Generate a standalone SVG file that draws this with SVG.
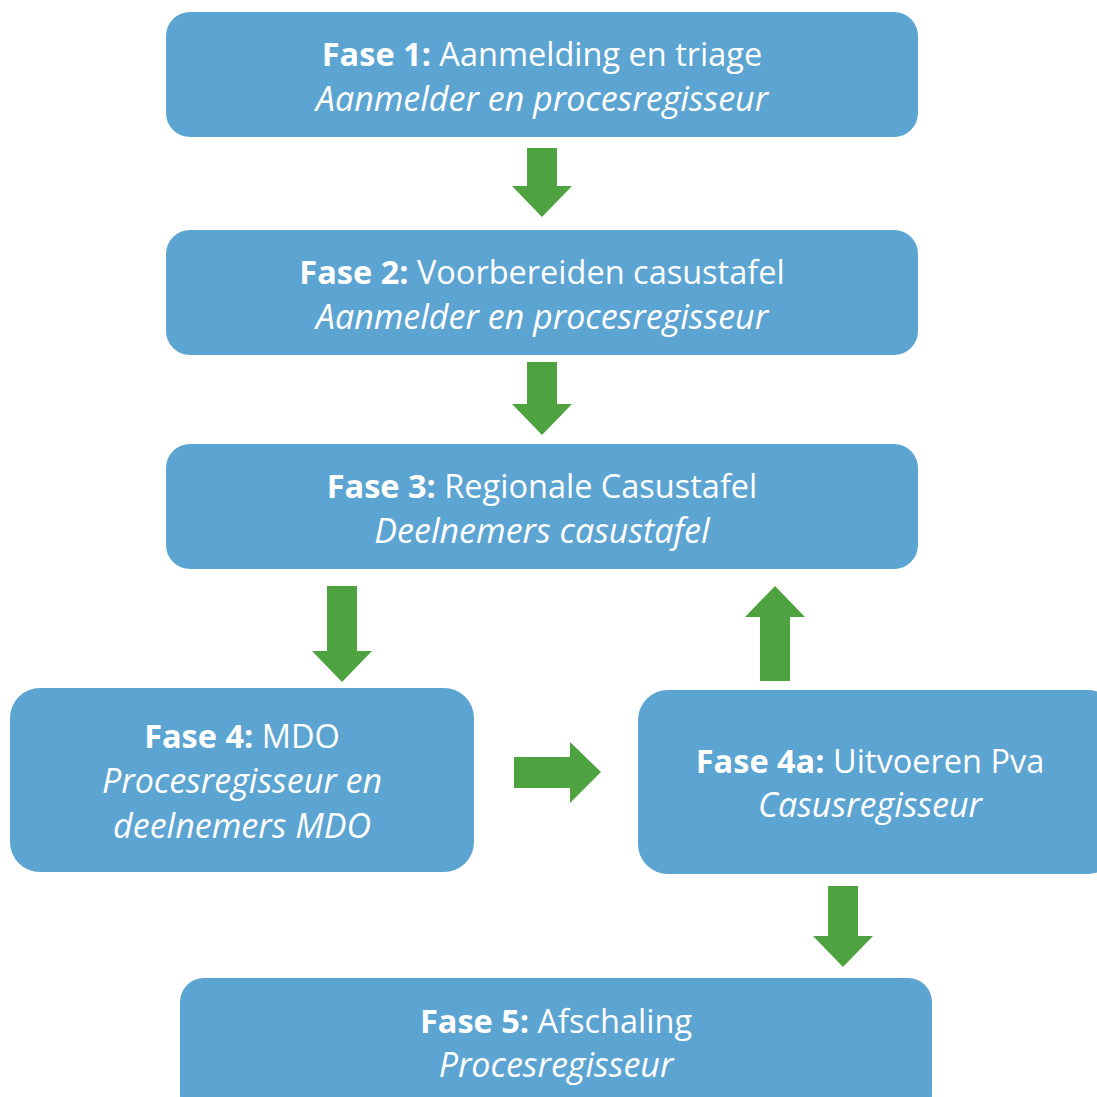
<svg xmlns="http://www.w3.org/2000/svg" width="1097" height="1097" viewBox="0 0 1097 1097">
<style>
.box{fill:#5CA4D1;}
.t{font-family:"Open Sans","Liberation Sans",sans-serif;font-size:32.5px;fill:#FFFFFF;text-anchor:middle;}
.b{font-weight:bold;}
.i{font-style:italic;font-size:34px;}
.arr{fill:#4EA23F;}
</style>
<rect width="1097" height="1097" fill="#FFFFFF"/>
<g id="fase1">
<rect class="box" x="166" y="12" width="752" height="125" rx="24"/>
<text class="t" x="542" y="66"><tspan class="b">Fase 1:</tspan> Aanmelding en triage</text>
<text class="t i" x="542" y="111">Aanmelder en procesregisseur</text>
</g>
<g id="fase2">
<rect class="box" x="166" y="230" width="752" height="125" rx="24"/>
<text class="t" x="542" y="284"><tspan class="b">Fase 2:</tspan> Voorbereiden casustafel</text>
<text class="t i" x="542" y="329">Aanmelder en procesregisseur</text>
</g>
<g id="fase3">
<rect class="box" x="166" y="444" width="752" height="125" rx="24"/>
<text class="t" x="542" y="498"><tspan class="b">Fase 3:</tspan> Regionale Casustafel</text>
<text class="t i" x="542" y="543">Deelnemers casustafel</text>
</g>
<g id="fase4">
<rect class="box" x="10" y="688" width="464" height="184" rx="30"/>
<text class="t" x="242" y="748"><tspan class="b">Fase 4:</tspan> MDO</text>
<text class="t i" x="242" y="793">Procesregisseur en</text>
<text class="t i" x="242" y="838">deelnemers MDO</text>
</g>
<g id="fase4a">
<rect class="box" x="638" y="690" width="480" height="184" rx="30"/>
<text class="t" x="870" y="773"><tspan class="b">Fase 4a:</tspan> Uitvoeren Pva</text>
<text class="t i" x="870" y="817">Casusregisseur</text>
</g>
<g id="fase5">
<rect class="box" x="180" y="978" width="752" height="140" rx="24"/>
<text class="t" x="556" y="1033"><tspan class="b">Fase 5:</tspan> Afschaling</text>
<text class="t i" x="556" y="1077">Procesregisseur</text>
</g>
<g id="connectors">
<polygon class="arr" points="527,148 557,148 557,186 572,186 542,217 512,186 527,186"/>
<polygon class="arr" points="527,362 557,362 557,404 572,404 542,435 512,404 527,404"/>
<polygon class="arr" points="327,586 357,586 357,651 372,651 342,682 312,651 327,651"/>
<polygon class="arr" points="760,681 790,681 790,617 805,617 775,586 745,617 760,617"/>
<polygon class="arr" points="514,757 570,757 570,742 601,772 570,803 570,788 514,788"/>
<polygon class="arr" points="828,886 858,886 858,936 873,936 843,967 813,936 828,936"/>
</g>
</svg>
